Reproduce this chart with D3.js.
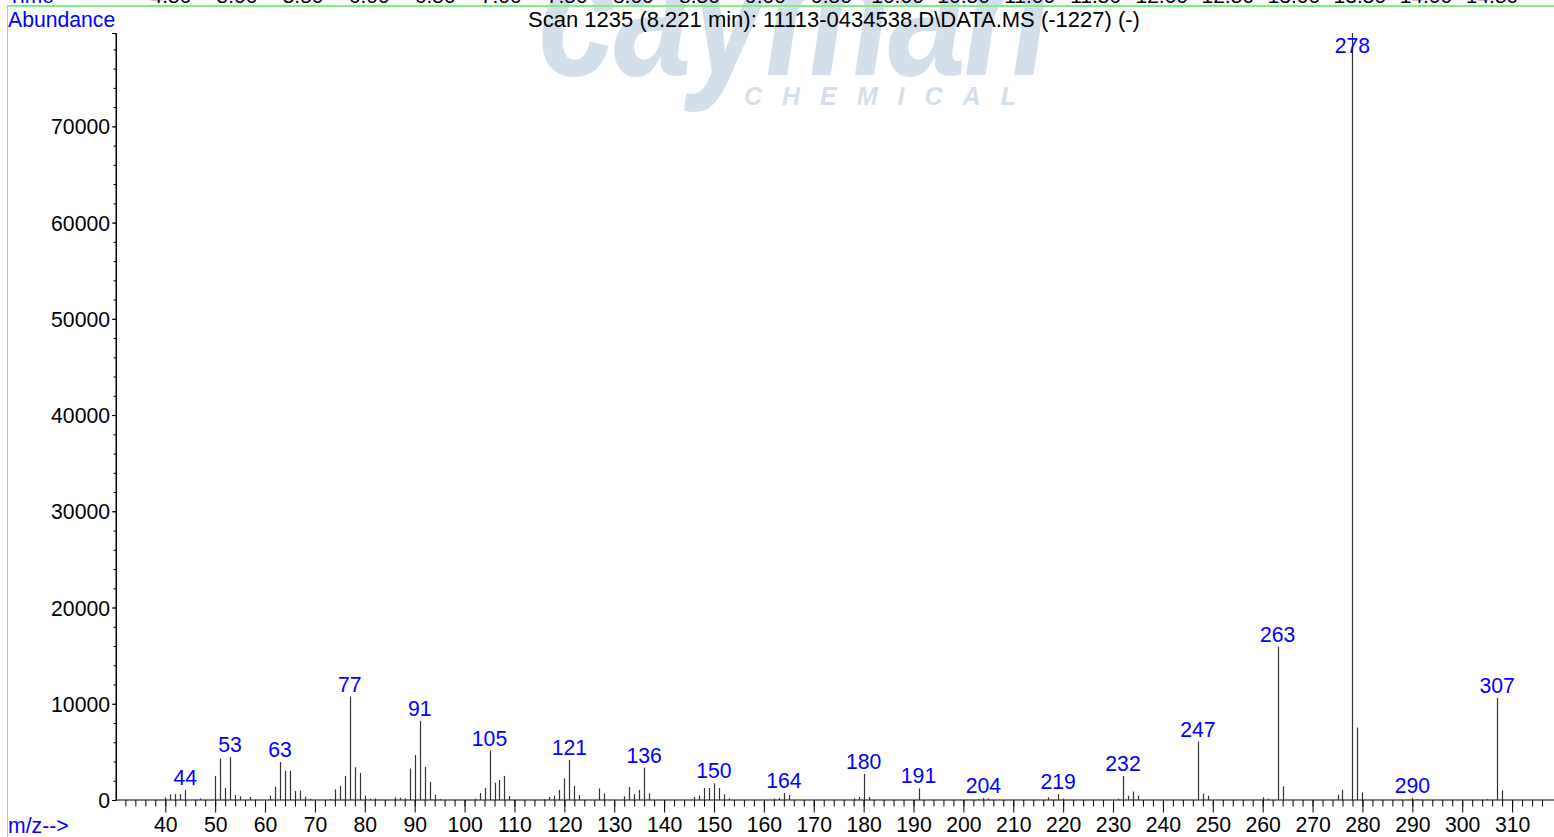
<!DOCTYPE html>
<html><head><meta charset="utf-8">
<script src="https://cdn.jsdelivr.net/npm/d3@7/dist/d3.min.js"></script>
<style>
html,body{margin:0;padding:0;background:#fff;}
svg{display:block;font-family:"Liberation Sans",Arial,sans-serif;}
</style></head>
<body>
<svg id="chart" width="1554" height="837"></svg>
<script>
// ---- data ----
const title = "Scan 1235 (8.221 min): 11113-0434538.D\\DATA.MS (-1227) (-)";
const mzValues = [40,41,42,43,44,47,50,51,52,53,54,55,57,61,62,63,64,65,66,67,68,69,73,74,75,76,77,78,79,80,81,82,86,87,88,89,90,91,92,93,94,95,102,103,104,105,106,107,108,109,116,117,118,119,120,121,122,123,127,128,132,133,134,135,136,137,146,147,148,149,150,151,152,153,162,163,164,165,178,179,180,181,191,203,204,205,217,219,220,231,232,233,234,235,247,248,249,260,261,263,264,275,276,278,279,280,290,291,305,307,308];
const abundance = [280,590,620,620,1075,170,2500,4300,1250,4470,520,380,310,450,1390,3950,3050,3020,940,970,350,140,100,1110,1460,2500,10750,3400,2800,450,140,170,280,240,170,3260,4680,8220,3430,1870,550,100,140,730,1250,5130,1800,2080,2500,420,100,310,450,1040,2250,4160,1460,520,1210,690,380,1350,620,1040,3360,690,310,480,1250,1250,1730,1250,590,170,140,210,730,520,170,310,2700,310,1210,100,210,170,280,620,140,140,2500,450,870,450,6070,660,450,280,140,15920,1420,550,1070,79700,7520,800,210,100,100,10610,1000];
const labeledPeaks = [44,53,63,77,91,105,121,136,150,164,180,191,204,219,232,247,263,278,290,307];
const yTickValues = [0,10000,20000,30000,40000,50000,60000,70000];
const xTickValues = [40,50,60,70,80,90,100,110,120,130,140,150,160,170,180,190,200,210,220,230,240,250,260,270,280,290,300,310];
const timeLabels = ["4.50","5.00","5.50","6.00","6.50","7.00","7.50","8.00","8.50","9.00","9.50","10.00","10.50","11.00","11.50","12.00","12.50","13.00","13.50","14.00","14.50"];

// ---- layout ----
const svg = d3.select("#chart");
const W = 1554, H = 837;
const x = d3.scaleLinear().domain([30, 318.2]).range([115.4, 1553]);
const y = d3.scaleLinear().domain([0, d3.max(abundance)]).range([800, 33]);
const tScale = d3.scaleLinear().domain([4.5, 14.5]).range([171, 1492]);
const blue = "#0000ff";

// watermark
const wm = svg.append("g").attr("fill", "#d3e0eb").attr("font-weight", "bold").attr("font-style", "italic");
wm.append("text").attr("transform", "translate(538,75) scale(1.03,1.32)")
  .attr("font-size", 136).attr("letter-spacing", -2).text("cayman");
wm.append("text").attr("x", 744).attr("y", 105).attr("font-size", 25)
  .attr("letter-spacing", 20).text("CHEMICAL");

// top cut-off time axis
svg.append("text").attr("x", 8).attr("y", 3).attr("font-size", 21).attr("fill", blue).text("Time");
svg.append("g").selectAll("text").data(timeLabels).join("text")
  .attr("x", d => tScale(+d)).attr("y", 3).attr("text-anchor", "middle")
  .attr("font-size", 21).attr("fill", "#000").text(d => d);

// green frame
svg.append("line").attr("x1", 7).attr("x2", W).attr("y1", 6).attr("y2", 6)
  .attr("stroke", "#80ee80").attr("stroke-width", 2);
svg.append("line").attr("x1", 7.5).attr("x2", 7.5).attr("y1", 6).attr("y2", H)
  .attr("stroke", "#80ee80").attr("stroke-width", 1);

// title & axis names
svg.append("text").attr("x", 834).attr("y", 27).attr("text-anchor", "middle")
  .attr("font-size", 22).attr("fill", "#000").text(title);
svg.append("text").attr("x", 8).attr("y", 27).attr("font-size", 21.2).attr("fill", blue).text("Abundance");
svg.append("text").attr("x", 8).attr("y", 833).attr("font-size", 21.2).attr("fill", blue).text("m/z-->");

// y axis
const yMinor = d3.range(0, y.domain()[1], 2000);
const gy = svg.append("g").attr("transform", "translate(116,0)");
gy.call(d3.axisLeft(y).tickValues(yMinor).tickSize(2.5).tickFormat(""));
gy.append("g").call(d3.axisLeft(y).tickValues(yTickValues).tickSize(4).tickFormat(d3.format("d")));
gy.selectAll(".domain").attr("stroke", "#000");
gy.selectAll("text").attr("font-size", 21.2).attr("fill", "#000").attr("font-family", "Liberation Sans, Arial, sans-serif").attr("dy", "0.36em").attr("x", -6);
gy.select(".domain").attr("d", `M0,${y(0)}V${y.range()[1]}`);

// x axis
const xMinor = d3.range(32, 318, 2);
const gx = svg.append("g").attr("transform", "translate(0,800)");
gx.call(d3.axisBottom(x).tickValues(xMinor).tickSize(6.5).tickFormat(""));
gx.append("g").call(d3.axisBottom(x).tickValues(xTickValues).tickSize(12.5).tickFormat(d3.format("d")));
gx.selectAll(".domain").attr("d", `M${x(30)},0H${W}`);
gx.selectAll("text").attr("font-size", 21.2).attr("fill", "#000").attr("font-family", "Liberation Sans, Arial, sans-serif").attr("y", 32).attr("dy", 0);
gx.selectAll(".domain").filter((d, i) => i > 0).remove();

// peaks
const peaks = mzValues.map((m, i) => ({mz: m, ab: abundance[i]}));
svg.append("g").selectAll("line").data(peaks).join("line")
  .attr("x1", d => Math.round(x(d.mz)) + 0.5).attr("x2", d => Math.round(x(d.mz)) + 0.5)
  .attr("y1", y(0)).attr("y2", d => y(d.ab))
  .attr("stroke", "#333").attr("stroke-width", 1.2);

// peak labels
svg.append("g").selectAll("text").data(peaks.filter(d => labeledPeaks.includes(d.mz))).join("text")
  .attr("x", d => x(d.mz)).attr("y", d => Math.max(y(d.ab) - 5, 53))
  .attr("text-anchor", "middle").attr("font-size", 21.2).attr("fill", blue).text(d => d.mz);
</script>
</body></html>
